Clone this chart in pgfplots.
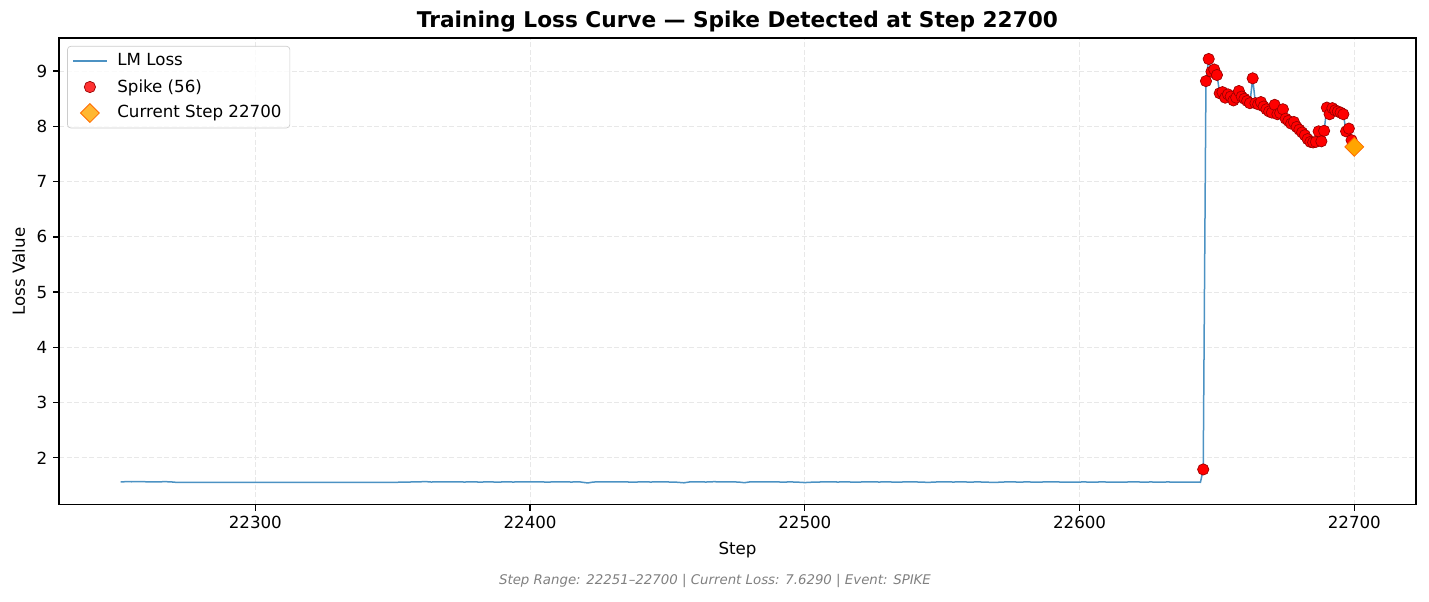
\documentclass[border=0pt]{standalone}
\usepackage{fontspec}
\setmainfont{DejaVu Sans}
\usepackage{pgfplots}
\pgfplotsset{compat=1.18}
\definecolor{lossblue}{HTML}{4C92C3}
\definecolor{spikered}{HTML}{FF0000}
\definecolor{curorange}{HTML}{FFA500}
\definecolor{gridgray}{HTML}{E8E8E8}

\begin{document}
\begin{tikzpicture}
\begin{axis}[
  scale only axis,
  width=814pt, height=280pt,
  xmin=22228.55, xmax=22722.45,
  ymin=1.15, ymax=9.60,
  xtick={22300,22400,22500,22600,22700},
  ytick={2,3,4,5,6,7,8,9},
  scaled x ticks=false,
  /pgf/number format/.cd, 1000 sep={}, assume math mode=true,
  /pgfplots/.cd,
  tick label style={font=\fontsize{10}{12}\selectfont},
  label style={font=\fontsize{10}{12}\selectfont},
  xlabel={Step}, ylabel={Loss Value},
  xlabel style={yshift=-1pt},
  ylabel style={yshift=0pt},
  tick pos=left, tick align=outside,
  major tick length=3.5pt,
  every tick/.style={black, line width=0.8pt},
  axis line style={line width=0.8pt},
  grid=major,
  major grid style={gridgray, line width=0.6pt, dash pattern=on 3pt off 1.5pt},
  legend style={at={(0.006,0.983)}, anchor=north west, font=\fontsize{10}{12}\selectfont,
    draw=black!20, rounded corners=2pt, fill=white, fill opacity=0.8, text opacity=1,
    row sep=2.6pt, inner xsep=3pt, inner ysep=2.5pt,
    /tikz/every odd column/.append style={column sep=4pt}},
  legend cell align=left,
  legend image code/.code={
    \draw[mark repeat=2, mark phase=2, #1] plot coordinates {(0pt,0pt) (10pt,0pt) (20pt,0pt)};
  },
]
% LM loss, full run
\addplot[lossblue, line width=0.9pt, no marks,
  legend image code/.code={\draw[lossblue, line width=0.9pt] (0pt,0pt) -- (20pt,0pt);}] coordinates {
(22251,1.565)(22253,1.568)(22255,1.567)(22257,1.570)(22259,1.568)(22261,1.566)(22263,1.563)(22265,1.566)(22267,1.568)(22269,1.566)(22271,1.557)
(22351,1.557)(22354,1.560)(22357,1.563)(22360,1.566)(22362,1.570)(22364,1.562)(22367,1.566)(22370,1.563)(22373,1.567)(22376,1.562)(22379,1.565)(22382,1.561)(22385,1.566)(22388,1.560)(22391,1.565)(22394,1.562)(22397,1.567)(22400,1.563)(22403,1.566)(22406,1.561)(22409,1.564)(22412,1.566)(22415,1.562)(22418,1.565)(22421,1.545)(22423,1.562)(22426,1.565)(22429,1.563)(22432,1.566)(22435,1.563)(22438,1.561)(22441,1.565)(22444,1.562)(22447,1.567)(22450,1.563)(22453,1.560)(22456,1.548)(22458,1.563)(22461,1.566)(22464,1.562)(22467,1.568)(22470,1.563)(22473,1.566)(22476,1.561)(22478,1.550)(22480,1.564)(22483,1.567)(22486,1.563)(22489,1.565)(22492,1.561)(22495,1.564)(22498,1.558)(22500,1.552)(22503,1.560)(22506,1.563)(22509,1.566)(22512,1.562)(22515,1.565)(22518,1.560)(22521,1.563)(22524,1.567)(22527,1.562)(22530,1.565)(22533,1.560)(22536,1.563)(22539,1.566)(22542,1.561)(22545,1.556)(22548,1.563)(22551,1.566)(22554,1.562)(22557,1.565)(22560,1.561)(22563,1.564)(22566,1.560)(22569,1.554)(22572,1.562)(22575,1.565)(22578,1.561)(22581,1.564)(22584,1.560)(22587,1.563)(22590,1.566)(22593,1.562)(22596,1.559)(22599,1.562)(22602,1.563)(22605,1.560)(22608,1.564)(22611,1.561)(22614,1.558)(22617,1.562)(22620,1.565)(22623,1.561)(22626,1.563)(22629,1.560)(22632,1.563)(22635,1.561)(22638,1.559)(22641,1.562)(22644,1.558)
(22645,1.79)(22646,8.82)(22647,9.22)(22648,8.99)(22649,9.03)(22650,8.93)(22651,8.60)(22652,8.62)(22653,8.52)(22654,8.58)
(22655,8.54)(22656,8.47)(22657,8.52)(22658,8.64)(22659,8.54)(22660,8.50)(22661,8.46)(22662,8.42)(22663,8.87)(22664,8.42)
(22665,8.40)(22666,8.44)(22667,8.36)(22668,8.31)(22669,8.27)(22670,8.25)(22671,8.39)(22672,8.22)(22673,8.24)(22674,8.31)
(22675,8.14)(22676,8.10)(22677,8.05)(22678,8.08)(22679,7.99)(22680,7.94)(22681,7.89)(22682,7.84)(22683,7.77)(22684,7.72)
(22685,7.71)(22686,7.72)(22687,7.91)(22688,7.73)(22689,7.92)(22690,8.34)(22691,8.22)(22692,8.33)(22693,8.29)(22694,8.27)
(22695,8.25)(22696,8.22)(22697,7.91)(22698,7.96)(22699,7.75)(22700,7.629)
};
\addlegendentry{LM Loss}
% spike points
\addplot[only marks, mark=*, mark size=3.4pt, mark options={fill=spikered, draw=red!60!black, line width=0.4pt}] coordinates {
(22645,1.79)(22646,8.82)(22647,9.22)(22648,8.99)(22649,9.03)(22650,8.93)(22651,8.60)(22652,8.62)(22653,8.52)(22654,8.58)
(22655,8.54)(22656,8.47)(22657,8.52)(22658,8.64)(22659,8.54)(22660,8.50)(22661,8.46)(22662,8.42)(22663,8.87)(22664,8.42)
(22665,8.40)(22666,8.44)(22667,8.36)(22668,8.31)(22669,8.27)(22670,8.25)(22671,8.39)(22672,8.22)(22673,8.24)(22674,8.31)
(22675,8.14)(22676,8.10)(22677,8.05)(22678,8.08)(22679,7.99)(22680,7.94)(22681,7.89)(22682,7.84)(22683,7.77)(22684,7.72)
(22685,7.71)(22686,7.72)(22687,7.91)(22688,7.73)(22689,7.92)(22690,8.34)(22691,8.22)(22692,8.33)(22693,8.29)(22694,8.27)
(22695,8.25)(22696,8.22)(22697,7.91)(22698,7.96)(22699,7.75)(22700,7.629)
};
\addlegendentry{Spike (56)}
% current step
\addplot[only marks, mark=square*, mark size=4pt, mark options={rotate=45, fill=curorange, draw=orange!85!red, line width=0.5pt}] coordinates {(22700,7.629)};
\addlegendentry{Current Step 22700}
\coordinate (top) at (rel axis cs:0.5,1);
\coordinate (bot) at (rel axis cs:0.5,0);
\coordinate (sw) at (rel axis cs:0,0);
\coordinate (ne) at (rel axis cs:1,1);
\end{axis}
\node[anchor=base, font=\bfseries\fontsize{13}{15}\selectfont] at (top) [yshift=6.6pt] {Training Loss Curve — Spike Detected at Step 22700};
\node[anchor=center, font=\itshape\fontsize{8}{10}\selectfont, text=black!50] at (bot) [xshift=-13.5pt, yshift=-46pt] {Step Range: 22251–22700 | Current Loss: 7.6290 | Event: SPIKE};
\useasboundingbox ([shift={(-35.4pt,-58.2pt)}]sw) rectangle ([shift={(7.8pt,22.8pt)}]ne);
\end{tikzpicture}
\end{document}
